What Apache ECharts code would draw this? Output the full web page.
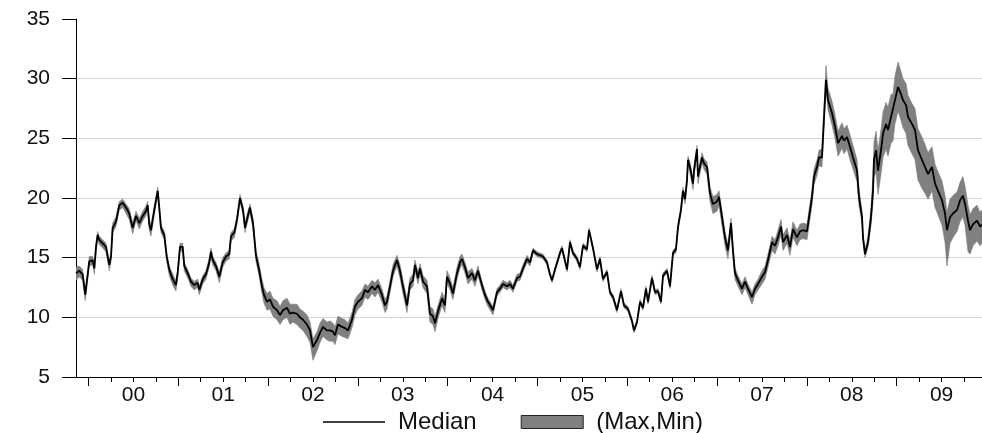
<!DOCTYPE html>
<html>
<head>
<meta charset="utf-8">
<script src="https://cdn.jsdelivr.net/npm/echarts@6/dist/echarts.min.js"></script>
<style>
  html, body { margin: 0; padding: 0; background: #fff; }
  #chart { width: 982px; height: 433px; }
</style>
</head>
<body>
<div id="chart"></div>
<script>
// Observation dates as decimal years
const dates = [
  1999.861,1999.898,1999.935,1999.964,2000.009,2000.047,2000.065,2000.084,2000.102,2000.120,
  2000.158,2000.195,2000.214,2000.232,2000.251,2000.269,2000.306,2000.343,2000.381,2000.418,
  2000.454,2000.492,2000.529,2000.566,2000.604,2000.640,2000.659,2000.677,2000.696,2000.733,
  2000.771,2000.788,2000.807,2000.844,2000.871,2000.900,2000.938,2000.974,2000.993,2001.019,
  2001.049,2001.067,2001.105,2001.141,2001.178,2001.216,2001.234,2001.272,2001.308,2001.345,
  2001.364,2001.383,2001.420,2001.457,2001.494,2001.531,2001.568,2001.587,2001.624,2001.654,
  2001.687,2001.721,2001.743,2001.765,2001.798,2001.832,2001.865,2001.899,2001.932,2001.954,
  2001.988,2002.021,2002.055,2002.099,2002.133,2002.166,2002.211,2002.244,2002.277,2002.322,
  2002.355,2002.389,2002.433,2002.467,2002.500,2002.545,2002.578,2002.611,2002.656,2002.689,
  2002.723,2002.745,2002.778,2002.823,2002.856,2002.890,2002.934,2002.968,2003.001,2003.046,
  2003.079,2003.113,2003.157,2003.190,2003.224,2003.268,2003.302,2003.324,2003.358,2003.391,
  2003.435,2003.469,2003.502,2003.547,2003.580,2003.614,2003.636,2003.669,2003.692,2003.725,
  2003.770,2003.803,2003.836,2003.859,2003.892,2003.937,2003.970,2003.992,2004.026,2004.059,
  2004.104,2004.137,2004.159,2004.193,2004.226,2004.271,2004.304,2004.337,2004.382,2004.415,
  2004.449,2004.505,2004.549,2004.583,2004.616,2004.660,2004.694,2004.727,2004.772,2004.805,
  2004.839,2004.883,2004.917,2004.950,2004.995,2005.028,2005.061,2005.106,2005.139,2005.162,
  2005.195,2005.251,2005.273,2005.329,2005.362,2005.395,2005.440,2005.473,2005.507,2005.551,
  2005.574,2005.618,2005.663,2005.696,2005.729,2005.774,2005.807,2005.841,2005.885,2005.930,
  2005.963,2006.008,2006.052,2006.075,2006.108,2006.142,2006.175,2006.208,2006.231,2006.275,
  2006.309,2006.342,2006.375,2006.398,2006.442,2006.476,2006.509,2006.542,2006.565,2006.598,
  2006.620,2006.643,2006.665,2006.676,2006.698,2006.732,2006.743,2006.776,2006.787,2006.832,
  2006.854,2006.888,2006.921,2006.954,2006.999,2007.021,2007.055,2007.088,2007.121,2007.155,
  2007.177,2007.199,2007.233,2007.277,2007.311,2007.344,2007.389,2007.422,2007.456,2007.500,
  2007.534,2007.567,2007.612,2007.645,2007.678,2007.712,2007.734,2007.779,2007.812,2007.845,
  2007.890,2007.923,2007.957,2008.001,2008.024,2008.057,2008.079,2008.113,2008.135,2008.168,
  2008.191,2008.213,2008.235,2008.280,2008.313,2008.347,2008.391,2008.413,2008.447,2008.480,
  2008.514,2008.558,2008.580,2008.614,2008.625,2008.647,2008.681,2008.714,2008.736,2008.747,
  2008.770,2008.792,2008.825,2008.848,2008.881,2008.903,2008.937,2008.959,2008.981,2009.015,
  2009.048,2009.070,2009.104,2009.126,2009.171,2009.204,2009.237,2009.282,2009.315,2009.349,
  2009.393,2009.427,2009.460,2009.505,2009.538,2009.560,2009.594,2009.627,2009.672,2009.705,
  2009.738,2009.761,2009.794,2009.817,2009.850,2009.894,2009.928,2009.950
];

// Median across the panel
const median = [
  13.7,13.9,13.6,11.9,14.7,14.8,14.1,15.9,16.9,16.5,
  16.2,15.9,15.1,14.4,15.1,17.5,18.0,19.4,19.6,19.2,
  18.7,17.5,18.5,17.9,18.5,18.9,19.4,17.8,17.3,19.0,
  20.6,19.2,17.5,16.9,15.1,14.0,13.2,12.7,13.7,15.9,
  15.9,14.3,13.7,13.0,12.7,12.9,12.3,13.2,13.6,14.6,
  15.5,14.8,14.3,13.4,14.6,15.1,15.3,16.8,17.1,18.2,
  20.0,19.0,17.5,18.2,19.2,17.9,15.2,14.0,12.6,11.9,
  11.3,11.5,10.9,10.6,10.2,10.6,10.8,10.3,10.4,10.3,
  10.0,9.8,9.4,8.9,7.5,8.1,8.7,9.2,8.9,8.9,
  8.8,8.5,9.4,9.2,9.1,8.9,9.8,10.9,11.3,11.6,
  12.3,12.1,12.6,12.3,12.7,11.9,11.0,11.3,12.6,13.9,
  14.8,13.9,12.6,11.0,12.8,13.1,14.4,13.3,14.1,13.0,
  12.6,10.3,10.1,9.5,10.5,11.6,11.0,13.4,12.8,12.0,
  13.7,14.6,14.9,14.2,13.3,13.7,13.1,13.9,12.7,11.9,
  11.3,10.6,12.1,12.4,12.8,12.6,12.8,12.4,13.3,13.4,
  14.1,14.9,14.6,15.6,15.3,15.2,15.1,14.6,13.6,13.1,
  14.0,15.4,15.8,14.0,16.3,15.4,14.9,14.2,16.0,15.7,
  17.3,15.8,14.0,14.9,13.2,13.8,12.1,11.7,10.6,12.2,
  11.0,10.7,9.7,8.9,9.6,11.3,10.8,12.4,11.3,13.3,
  12.1,12.2,11.3,13.5,13.9,12.6,15.4,15.7,17.6,19.0,
  20.6,19.9,21.5,23.2,22.6,21.2,22.3,24.1,21.8,23.4,
  22.9,22.6,20.4,19.5,19.7,20.1,18.4,16.7,15.6,17.9,
  15.6,13.7,13.1,12.4,13.0,12.4,11.7,12.4,12.8,13.4,
  13.8,14.8,16.3,16.0,16.7,17.6,16.3,16.9,15.9,17.4,
  16.7,17.2,17.3,17.2,18.4,20.1,21.8,22.6,23.4,23.4,
  26.8,29.9,28.2,27.1,26.0,24.6,25.2,24.8,25.1,24.3,
  23.4,22.3,20.1,18.4,16.7,15.3,16.3,18.4,20.6,23.2,
  24.0,22.3,24.0,25.4,26.2,25.7,26.8,26.8,28.2,29.3,
  28.7,28.2,27.8,26.8,26.2,25.7,24.0,23.2,22.6,22.0,
  22.6,21.2,20.6,19.8,18.7,17.3,18.4,18.7,19.0,19.8,
  20.2,19.5,18.1,17.3,17.8,18.1,17.6,17.8
];

// Distance from the median up to the panel maximum
const spreadUp = [
  .5,.4,.4,.3,.4,.3,.3,.3,.3,.3,
  .3,.3,.3,.3,.3,.4,.4,.3,.3,.3,
  .4,.4,.4,.4,.4,.4,.3,.4,.4,.4,
  .3,.3,.3,.3,.3,.3,.4,.4,.3,.3,
  .3,.3,.3,.3,.3,.3,.3,.3,.3,.4,
  .3,.3,.3,.4,.4,.3,.3,.3,.3,.3,
  .3,.3,.4,.4,.3,.4,.4,.5,.6,.6,
  .7,.7,.7,.8,.7,.8,.8,.8,.7,.8,
  .7,.7,.8,.7,.7,.7,.8,.7,.7,.8,
  .7,.7,.7,.7,.7,.6,.6,.6,.6,.6,
  .5,.5,.5,.6,.5,.5,.5,.5,.5,.5,
  .4,.5,.5,.5,.5,.5,.4,.5,.4,.5,
  .5,.6,.6,.6,.5,.5,.5,.5,.5,.5,
  .5,.5,.4,.4,.5,.4,.4,.4,.3,.3,
  .3,.3,.3,.3,.3,.3,.3,.3,.3,.3,
  .3,.3,.2,.2,.2,.2,.2,.2,.2,.2,
  .2,.2,.2,.2,.2,.2,.2,.2,.2,.2,
  .2,.2,.2,.2,.2,.2,.2,.2,.2,.2,
  .2,.2,.2,.2,.2,.2,.2,.2,.2,.2,
  .2,.2,.2,.2,.2,.2,.2,.2,.2,.3,
  .3,.3,.3,.3,.4,.4,.4,.3,.4,.4,
  .4,.4,.5,.6,.6,.5,.5,.5,.5,.4,
  .4,.4,.4,.4,.4,.4,.4,.4,.4,.5,
  .5,.5,.5,.5,.6,.6,.6,.6,.6,.6,
  .6,.6,.6,.6,.6,.6,.6,.6,.6,.7,
  .8,1.2,1.0,1.0,1.0,1.0,1.1,1.0,1.0,1.0,
  1.0,.9,.7,.5,.4,.3,.5,.8,1.2,1.5,
  1.6,1.7,1.7,1.8,1.8,1.9,1.9,1.9,2.0,2.1,
  1.9,1.8,1.8,1.8,1.7,1.8,1.8,1.9,1.9,1.8,
  1.7,1.6,1.6,1.6,1.5,1.5,1.5,1.5,1.5,1.5,
  1.6,1.5,1.3,1.3,1.3,1.3,1.2,1.2
];

// Distance from the median down to the panel minimum
const spreadDown = [
  .6,.5,.5,.5,.4,.4,.5,.4,.3,.4,
  .4,.4,.4,.5,.4,.4,.4,.4,.4,.5,
  .5,.5,.4,.5,.4,.4,.4,.5,.5,.4,
  .3,.4,.4,.4,.4,.5,.5,.5,.4,.3,
  .4,.4,.4,.4,.4,.4,.4,.4,.4,.4,
  .4,.4,.4,.5,.4,.4,.4,.4,.4,.4,
  .3,.4,.4,.4,.4,.5,.5,.5,.6,.7,
  .7,.8,.8,.8,.8,.8,.8,.9,.8,.9,
  .9,.9,1.0,1.0,1.1,.9,.8,.8,.8,.9,
  .8,.8,.8,.8,.8,.7,.7,.7,.6,.6,
  .6,.6,.6,.6,.6,.6,.6,.6,.5,.5,
  .5,.6,.6,.6,.5,.5,.5,.5,.5,.5,
  .6,.7,.7,.7,.6,.6,.6,.5,.5,.5,
  .5,.5,.5,.5,.5,.5,.5,.4,.4,.4,
  .4,.4,.3,.3,.3,.3,.3,.3,.3,.3,
  .3,.3,.3,.2,.2,.2,.2,.2,.2,.2,
  .2,.2,.2,.2,.2,.2,.2,.2,.2,.2,
  .2,.2,.2,.2,.2,.2,.2,.2,.2,.2,
  .2,.2,.2,.2,.2,.2,.2,.2,.2,.2,
  .2,.2,.2,.2,.2,.2,.2,.3,.3,.3,
  .3,.4,.4,.4,.5,.5,.5,.5,.6,.5,
  .5,.6,.7,.8,.8,.7,.7,.7,.7,.6,
  .6,.5,.5,.5,.5,.5,.6,.5,.5,.6,
  .6,.6,.7,.7,.7,.7,.7,.7,.7,.7,
  .7,.7,.7,.7,.7,.7,.7,.7,.7,.8,
  .8,.7,.8,1.0,1.0,1.1,1.0,1.1,1.0,1.1,
  1.0,.9,.7,.5,.4,.3,.4,.7,1.0,1.5,
  1.8,2.0,2.0,2.0,2.1,2.2,2.2,2.0,2.0,2.0,
  2.2,2.3,2.4,2.4,2.5,2.5,2.5,2.4,2.2,2.1,
  2.0,2.0,2.0,2.1,2.4,3.0,2.2,2.0,1.8,1.8,
  1.8,1.8,2.6,2.0,1.8,1.7,1.6,1.6
];

// Axis ticks: quarters, year boundaries and year labels at mid-year
const yearStarts = [2000, 2001, 2002, 2003, 2004, 2005, 2006, 2007, 2008, 2009];
const quarterTicks = [];
yearStarts.forEach(y => { quarterTicks.push(y + 0.25, y + 0.5, y + 0.75); });
const yearLabels = yearStarts.map(y => y + 0.5);
const yTicks = { min: 5, max: 35, step: 5 };
const xRange = { min: 1999.861, max: 2009.95 };

const medianData = dates.map((d, i) => [d, median[i]]);
const bandData = dates.map((d, i) => [d, +(median[i] + spreadUp[i]).toFixed(2), +(median[i] - spreadDown[i]).toFixed(2)]);

const FONT = '"Liberation Sans", Arial, Helvetica, sans-serif';
const chart = echarts.init(document.getElementById('chart'), null, { renderer: 'canvas' });

chart.setOption({
  animation: false,
  backgroundColor: '#ffffff',
  grid: { left: 76, right: 0, top: 19, bottom: 56, containLabel: false },
  xAxis: [
    {
      type: 'value', min: xRange.min, max: xRange.max, position: 'bottom',
      axisLine: { show: true, lineStyle: { color: '#000', width: 1 } },
      axisTick: { show: true, customValues: quarterTicks, length: 5, inside: false, lineStyle: { color: '#000', width: 1 } },
      axisLabel: {
        show: true, customValues: yearLabels, margin: 8,
        fontFamily: FONT, fontSize: 21, color: '#111',
        formatter: v => String(Math.floor(v) % 100).padStart(2, '0')
      },
      splitLine: { show: false }
    },
    {
      type: 'value', min: xRange.min, max: xRange.max, position: 'bottom',
      axisLine: { show: false },
      axisTick: { show: true, customValues: yearStarts, length: 9, lineStyle: { color: '#000', width: 1 } },
      axisLabel: { show: false },
      splitLine: { show: false }
    }
  ],
  yAxis: {
    type: 'value', min: yTicks.min, max: yTicks.max, interval: yTicks.step,
    axisLine: { show: true, lineStyle: { color: '#000', width: 1 } },
    axisTick: { show: true, length: 14, lineStyle: { color: '#000', width: 1 } },
    axisLabel: { margin: 26, fontFamily: FONT, fontSize: 21, color: '#111' },
    splitLine: { show: true, showMinLine: false, showMaxLine: false, lineStyle: { color: '#d4d4d4', width: 1 } }
  },
  legend: {
    left: 318, top: 405,
    itemWidth: 62, itemHeight: 13, itemGap: 44,
    textStyle: { fontFamily: FONT, fontSize: 24, color: '#111', padding: [0, 0, 0, 8] },
    selectedMode: false,
    data: [
      { name: 'Median', icon: 'path://M0,0 L62,0 L62,1.6 L0,1.6 Z', itemStyle: { color: '#000' } },
      { name: '(Max,Min)', icon: 'rect', itemStyle: { color: '#808080', borderColor: '#222', borderWidth: 1 } }
    ]
  },
  series: [
    {
      name: '(Max,Min)',
      type: 'custom',
      xAxisIndex: 0,
      data: bandData,
      encode: { x: 0, y: [1, 2] },
      clip: true,
      silent: true,
      itemStyle: { color: '#808080' },
      renderItem: function (params, api) {
        if (params.dataIndex !== 0) return null;
        const upper = bandData.map(p => api.coord([p[0], p[1]]));
        const lower = bandData.map(p => api.coord([p[0], p[2]])).reverse();
        return {
          type: 'polygon',
          shape: { points: upper.concat(lower) },
          style: { fill: '#808080', stroke: '#7a7a7a', lineWidth: 0.6 }
        };
      },
      z: 2
    },
    {
      name: 'Median',
      type: 'line',
      xAxisIndex: 0,
      data: medianData,
      symbol: 'none',
      showSymbol: false,
      lineStyle: { color: '#000', width: 1.8 },
      itemStyle: { color: '#000' },
      silent: true,
      z: 3
    }
  ]
});
</script>
</body>
</html>
